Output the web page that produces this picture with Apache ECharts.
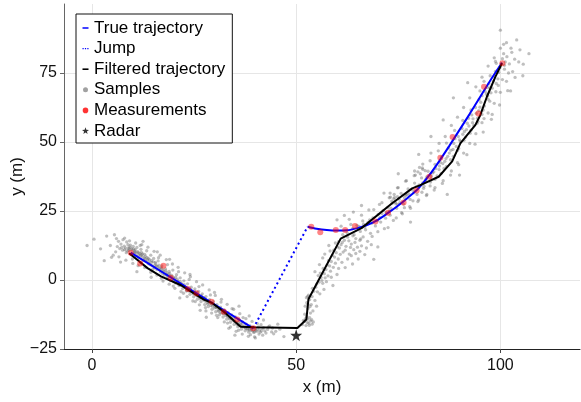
<!DOCTYPE html>
<html>
<head>
<meta charset="utf-8">
<script src="https://cdn.jsdelivr.net/npm/echarts@6/dist/echarts.min.js"></script>
<style>
html,body{margin:0;padding:0;background:#fff;}
#chart{width:581px;height:402px;}
</style>
</head>
<body>
<div id="chart"></div>
<script>
// ---- data ----
const xTicks = [0, 50, 100];
const yTicks = [-25, 0, 25, 50, 75];

const trueSeg1 = [[9.5, 9.9], [24.5, -3.8], [39.5, -17.5]];
const jumpSeg = [[39.5, -17.5], [52.8, 19.3]];
const trueSeg2 = [[52.8, 19.3], [55, 18.6], [57.5, 18.1], [60, 17.9], [62.5, 18.0], [65, 18.8], [67.5, 20.0],
  [70, 21.8], [72.5, 24.3], [75, 27.0], [77.5, 30.0], [80, 33.3], [82.5, 37.8], [85, 43.0], [87.5, 48.6],
  [90, 54.4], [92.5, 60.2], [95, 66.2], [97.5, 72.2], [100.4, 78.7]];

const filtered = [[9.1, 9.7], [11, 7.4], [13.6, 4.3], [16.9, 1.3], [21.8, -1.9], [23.4, -3.4], [27.4, -7.1],
  [29.5, -8.4], [32.8, -12.1], [36.4, -16.9], [39.7, -17.1], [50.3, -17.4], [52.5, -14.3], [53.0, -7.0],
  [60.9, 15.0], [66.0, 18.8], [73.5, 27.8], [78.4, 33.2], [80.4, 34.4], [84.9, 37.4], [88.2, 43.0],
  [90.2, 49.5], [93.9, 56.2], [95.1, 59.8], [96.7, 66.4], [98.8, 73.7], [100.4, 78.5]];

const measurements = [[9.5, 9.9], [11.8, 6.0], [17.5, 5.2], [19.3, 0.8], [23.5, -3.3], [25.6, -4.8],
  [29.3, -7.9], [32.3, -11.5], [35.6, -14.3], [39.5, -17.5], [53.7, 19.3], [55.9, 17.3], [59.7, 18.1],
  [62.0, 18.1], [64.4, 19.6], [69.4, 21.2], [72.5, 24.4], [76.3, 28.1], [79.5, 32.4], [82.6, 37.4],
  [85.3, 44.3], [88.3, 51.8], [94.6, 60.3], [96.0, 70.0], [100.5, 78.5]];

const radar = [[50, -20]];

const samples = [
  [6.2,12.1],[6.8,11.4],[7.1,13.0],[7.5,10.8],[7.9,12.3],[8.2,11.6],[8.4,9.9],[8.8,12.8],[9.0,10.7],[9.3,11.9],
  [9.6,9.2],[9.8,10.9],[10.1,12.2],[10.3,9.8],[10.6,11.0],[10.9,8.7],[11.2,10.3],[11.4,7.9],[11.7,9.6],[12.0,11.1],
  [12.3,8.4],[12.6,7.2],[12.9,9.3],[13.2,6.8],[13.5,8.1],[13.8,5.9],[14.1,7.4],[14.4,9.0],[14.7,5.2],[15.0,6.6],
  [15.3,4.5],[15.6,5.9],[15.9,3.8],[16.2,6.9],[16.5,4.3],[16.8,2.9],[17.1,5.1],[17.4,3.4],[17.7,1.8],[18.0,4.0],
  [18.3,2.6],[18.6,0.9],[18.9,3.1],[19.2,-0.2],[19.5,1.7],[19.8,3.6],[20.1,0.5],[20.4,-1.1],[20.7,1.9],[21.0,-0.4],
  [21.3,-2.0],[21.6,0.8],[21.9,-1.2],[22.2,-3.1],[22.5,-0.3],[22.8,-2.5],[23.1,-4.0],[23.4,-1.4],[23.7,-3.3],[24.0,-5.2],
  [24.3,-2.6],[24.6,-4.3],[24.9,-6.1],[25.2,-3.2],[25.5,-5.5],[25.8,-7.0],[26.1,-4.1],[26.4,-6.3],[26.7,-7.8],[27.0,-5.0],
  [27.3,-7.2],[27.6,-8.9],[27.9,-6.0],[28.2,-8.1],[28.5,-9.6],[28.8,-7.1],[29.1,-9.2],[29.4,-10.6],[29.7,-7.8],[30.0,-10.1],
  [30.3,-11.5],[30.6,-8.9],[30.9,-10.9],[31.2,-12.6],[31.5,-9.8],[31.8,-12.0],[32.1,-13.4],[32.4,-10.8],[32.7,-12.9],[33.0,-14.2],
  [33.3,-11.7],[33.6,-13.6],[33.9,-15.3],[34.2,-12.6],[34.5,-14.6],[34.8,-16.1],[35.1,-13.4],[35.4,-15.5],[35.7,-16.9],[36.0,-14.4],
  [36.3,-16.3],[36.6,-17.8],[36.9,-15.2],[37.2,-17.1],[37.5,-18.4],[37.8,-16.0],[38.1,-17.6],[38.4,-18.9],[38.7,-16.6],[39.0,-18.3],
  [39.3,-17.2],[39.6,-19.0],[40.0,-17.8],[40.4,-18.6],[40.8,-17.0],[41.2,-18.9],[41.7,-17.6],[42.3,-18.4],[43.0,-17.9],
  [7.3,11.8],[8.6,10.5],[9.4,12.6],[10.4,10.6],[11.0,11.8],[11.5,9.1],[12.1,10.0],[12.8,8.0],[13.6,7.3],[14.2,5.6],
  [15.1,7.8],[15.8,5.0],[16.6,3.6],[17.3,2.3],[18.1,3.3],[18.8,1.9],[19.6,0.2],[20.5,0.9],[21.4,-1.5],[22.1,-2.0],
  [23.0,-2.9],[23.9,-4.1],[24.8,-5.0],[25.6,-4.6],[26.5,-6.8],[27.4,-6.4],[28.3,-8.7],[29.2,-8.4],[30.1,-9.5],[31.0,-11.3],
  [31.9,-11.0],[32.8,-12.2],[33.7,-14.1],[34.6,-13.9],[35.5,-16.0],[36.4,-15.6],[37.3,-16.6],[38.2,-18.1],[39.1,-17.6],[40.2,-18.2],
  [41.0,-18.1],[42.0,-17.3],
  [8.0,11.0],[9.1,11.3],[10.2,11.3],[10.8,9.8],[11.9,8.9],[12.4,9.5],[13.0,7.6],[13.9,6.5],[14.6,7.0],[15.4,5.3],
  [16.1,4.9],[16.9,4.4],[17.6,3.0],[18.4,1.5],[19.3,1.2],[20.0,-0.5],[20.9,0.2],[21.7,-1.9],[22.6,-1.7],[23.5,-3.8],
  [24.2,-3.5],[25.0,-4.6],[25.9,-5.9],[26.8,-5.7],[27.7,-7.6],[28.6,-7.6],[29.5,-9.5],[30.4,-10.0],[31.3,-10.5],[32.2,-12.2],
  [33.1,-12.7],[34.0,-13.4],[34.9,-15.0],[35.8,-15.3],[36.7,-16.2],[37.6,-17.3],[38.5,-17.4],[39.4,-18.4],[40.6,-17.4],[41.5,-18.5],
  [5.8,10.2],[6.5,14.0],[8.5,13.8],[9.9,7.6],[11.8,12.5],[12.0,6.2],[13.4,10.6],[14.9,3.9],[16.3,8.1],[17.0,0.6],
  [18.5,5.6],[19.9,-2.2],[21.2,3.0],[22.4,-4.8],[23.8,0.2],[25.3,-7.8],[26.2,-2.4],[27.8,-10.0],[29.0,-5.4],[30.5,-12.8],
  [31.6,-8.0],[33.2,-15.6],[34.3,-10.4],[35.9,-18.2],[37.0,-13.6],[38.8,-19.8],[40.5,-15.8],[41.8,-20.0],[43.5,-16.6],[44.0,-18.8],
  [4.5,12.5],[5.2,9.0],[6.0,15.0],[6.6,8.4],[7.6,14.6],[8.3,7.2],[9.2,14.2],[10.0,6.0],[10.7,13.4],[11.3,5.2],
  [12.2,12.8],[12.9,4.5],[13.7,11.9],[14.4,2.8],[15.2,10.4],[15.9,1.8],[16.7,9.0],[17.4,-0.4],[18.2,7.4],[18.9,-1.5],
  [19.7,5.8],[20.3,-3.0],[21.1,4.6],[21.8,-4.2],[22.7,2.6],[23.3,-6.0],[24.1,1.2],[24.7,-7.6],[25.6,-0.6],[26.3,-9.0],
  [27.1,-1.8],[27.9,-11.2],[28.7,-3.6],[29.3,-12.0],[30.2,-5.6],[30.8,-13.6],[31.7,-7.0],[32.4,-15.2],[33.1,-8.8],[33.9,-17.0],
  [34.7,-10.6],[35.3,-18.6],[36.2,-12.2],[36.8,-19.6],[37.7,-14.0],[38.3,-20.4],[39.2,-15.0],[39.8,-20.6],[40.9,-19.6],[41.4,-16.2],
  [42.6,-19.2],[43.2,-17.0],[44.2,-17.4],[45.0,-18.6],[46.0,-17.8],
  [8.9,11.6],[9.7,11.4],[10.5,10.1],[11.3,9.9],[12.2,9.1],[13.1,8.6],[13.8,7.8],[14.5,6.3],[15.5,6.4],[16.4,5.4],
  [17.2,4.0],[18.2,2.0],[19.0,2.4],[19.9,1.0],[20.8,-0.9],[21.6,-0.6],[22.4,-2.2],[23.2,-3.6],[24.1,-3.9],[25.1,-4.0],
  [26.0,-5.3],[26.9,-6.2],[27.8,-7.0],[28.7,-8.4],[29.6,-8.8],[30.5,-9.9],[31.4,-11.8],[32.3,-11.9],[33.2,-13.2],[34.1,-14.0],
  [35.0,-14.9],[35.9,-16.3],[36.8,-16.8],[37.7,-17.6],[38.6,-18.0],[39.8,-18.8],
  [0.5,14.8],[-1.2,12.5],[2.1,11.3],[3.6,15.9],[4.8,8.2],[5.5,16.4],[3.0,7.0],[8.0,15.2],[12.5,14.0],[16.0,10.2],
  [14.5,1.0],[19.0,7.5],[21.5,-6.5],[24.0,2.0],[26.5,-11.0],[30.0,-4.5],[33.5,-17.5],[36.0,-9.5],[38.5,-13.0],[44.5,-19.5],
  [45.5,-16.0],[47.0,-20.5],[11.0,3.0],[7.0,6.5],[28.0,-13.5],[35.0,-20.0],[40.0,-21.0],[42.0,-14.5],
  [51.5,-16.2],[52.0,-15.0],[52.4,-16.5],[52.8,-14.2],[53.1,-15.6],[53.5,-14.8],[53.9,-16.0],[52.6,-13.2],[53.3,-13.6],[54.2,-15.2],
  [51.8,-14.6],[52.2,-9.5],[52.6,-8.2],[52.9,-10.3],[53.3,-7.1],[52.5,-6.4],[53.7,-8.9],[53.0,-5.5],[53.9,-6.0],[54.3,-4.1],
  [54.8,-2.6],[55.2,-4.3],[55.6,-0.8],[56.1,0.9],[55.4,1.6],[56.5,-1.2],[56.9,2.3],[57.3,3.8],[56.6,4.2],[57.8,1.5],
  [58.2,5.1],[58.6,6.7],[57.9,7.0],[59.1,4.6],[59.4,8.3],[59.8,9.9],[59.2,10.8],[60.3,7.6],[60.6,11.6],[61.0,12.8],
  [60.4,13.9],[61.5,10.1],[61.8,14.4],[62.2,12.2],[62.6,15.5],[63.0,9.4],[63.5,13.0],[64.1,11.0],[64.6,15.0],[65.2,7.6],
  [66.0,12.4],[66.8,9.2],[58.0,12.5],[56.5,8.0],[62.0,4.5],[67.5,14.0],[63.8,5.8],[60.0,2.0],[69.0,7.5],[55.0,-9.5],
  [52.7,-15.4],[53.2,-16.4],[52.3,-14.0],[53.8,-14.4],[52.9,-8.8],[53.4,-9.6],[52.8,-6.0],[54.0,-3.0],[55.0,-1.5],[55.9,2.5],
  [56.3,-0.2],[57.1,0.8],[57.6,5.4],[58.4,3.2],[58.9,8.9],[59.6,6.1],[60.1,12.0],[60.8,9.3],[61.3,13.6],[62.0,10.8],
  [62.9,14.2],[63.3,11.8],[64.4,13.6],[65.0,11.9],[65.8,14.9],
  [53.5,-12.0],[54.1,-11.2],[52.1,-12.4],[54.6,-7.4],[55.8,-5.0],[56.8,-3.4],[57.4,-0.6],[58.6,1.0],[59.0,-2.0],[60.4,4.2],
  [61.2,6.4],[62.6,7.6],[63.5,8.8],[64.6,9.6],[65.6,10.4],[66.4,15.6],[67.2,11.6],[68.4,12.8],[59.6,13.4],[58.3,10.5],
  [57.0,9.4],[55.7,5.6],[54.6,3.0],[61.4,16.4],[63.9,16.0],
  [62.5,17.0],[63.4,20.1],[64.2,16.4],[64.9,19.8],[65.7,17.6],[66.3,21.4],[67.0,18.2],[67.6,20.9],[68.2,16.9],[68.8,22.5],
  [69.4,19.6],[70.1,23.8],[70.7,21.0],[71.3,25.2],[71.9,22.4],[72.4,26.3],[73.0,23.5],[73.5,27.8],[74.1,29.9],[74.6,26.0],
  [75.2,29.3],[75.7,31.4],[76.3,27.5],[76.8,30.8],[77.4,33.0],[77.9,29.2],[78.5,32.6],[79.0,35.1],[79.6,31.0],[80.1,34.5],
  [80.7,37.0],[81.2,33.2],[81.8,36.6],[82.3,39.4],[82.9,35.5],[83.4,38.8],[84.0,41.9],[84.5,37.7],[85.1,41.3],[85.6,44.6],
  [86.2,40.4],[86.7,44.0],[87.3,47.8],[87.8,43.6],[88.4,47.3],[88.9,51.2],[89.5,46.9],[90.0,50.8],[90.6,54.9],[91.1,50.6],
  [91.7,54.5],[92.2,58.6],[92.8,54.3],[93.3,58.4],[93.9,62.5],[94.4,58.6],[95.0,62.6],[95.5,66.8],[96.1,63.0],[96.6,67.3],
  [97.2,71.1],[97.7,67.8],[98.3,72.0],[98.8,75.6],[99.4,72.9],[99.9,77.0],[100.5,80.2],[101.0,76.4],[101.6,80.9],[102.2,78.3],
  [102.8,82.5],[103.5,80.0],
  [63.8,18.6],[65.4,19.4],[66.8,19.2],[68.0,21.8],[69.9,21.6],[71.0,24.1],[72.0,24.4],[73.2,26.0],[74.4,27.6],[75.4,28.0],
  [76.5,29.9],[77.6,31.2],[78.8,31.6],[79.9,33.5],[81.0,35.2],[82.0,37.4],[83.1,37.6],[84.2,40.4],[85.3,42.6],[86.4,43.0],
  [87.5,46.0],[88.6,49.5],[89.7,52.0],[90.8,52.8],[91.9,56.8],[93.0,59.8],[94.1,60.4],[95.2,64.4],[96.3,68.2],[97.4,69.6],
  [98.5,73.8],[99.6,75.2],[100.2,78.4],[101.2,79.0],
  [84.0,36.5],[85.5,38.6],[86.8,41.2],[88.5,44.8],[89.8,47.6],[91.5,51.8],[92.6,53.2],[94.3,56.8],[95.8,61.6],[97.4,64.8],
  [98.9,68.2],[100.5,72.6],[102.0,75.0],[76.5,26.2],[78.6,28.7],[80.8,31.8],[82.8,34.1],
  [61.0,19.5],[63.0,22.0],[66.0,23.5],[69.0,25.5],[71.0,28.0],[73.0,31.5],[75.0,33.5],[77.0,36.0],[79.0,39.5],[81.0,42.0],
  [83.0,46.0],[85.0,49.5],[86.5,52.0],[88.0,56.0],[89.5,59.0],[91.0,62.5],[92.5,66.0],[94.0,70.0],[95.5,73.5],[97.0,77.5],
  [98.5,80.5],[100.0,84.0],[101.5,86.0],
  [70.0,17.5],[72.5,19.0],[74.5,22.5],[76.0,24.0],[78.0,26.0],[80.0,29.0],[82.0,31.0],[84.0,33.5],[86.0,36.0],[88.0,39.5],
  [89.5,42.5],[91.0,46.0],[92.5,49.5],[94.0,53.0],[95.5,57.0],[97.0,60.5],[98.5,64.0],[100.0,68.0],[101.5,72.0],[103.0,75.5],
  [104.5,79.0],
  [60.0,21.8],[61.8,23.4],[64.0,24.6],[65.6,14.4],[67.8,25.4],[68.6,15.8],[70.4,27.4],[71.6,18.6],[72.8,29.8],[73.8,21.6],
  [74.8,33.4],[75.8,24.4],[76.8,35.8],[77.8,26.6],[78.9,37.8],[79.8,28.4],[80.9,40.6],[81.9,30.6],[82.8,43.2],[83.8,32.6],
  [84.8,46.8],[85.8,35.0],[86.8,49.6],[87.8,38.0],[88.8,54.2],[89.8,41.8],[90.8,57.8],[91.8,45.4],[92.8,61.6],[93.8,49.2],
  [94.8,65.4],[95.8,53.6],[96.8,69.8],[97.8,58.2],[98.8,79.2],[99.8,63.4],[100.8,85.4],[101.8,68.6],[102.6,84.0],[103.6,73.4],
  [104.8,83.4],[105.6,78.2],
  [66.5,20.2],[68.5,20.6],[70.5,22.6],[72.8,25.0],[74.9,27.4],[77.1,30.8],[79.4,33.8],[81.6,36.0],[83.7,39.2],[85.9,42.2],
  [87.9,47.0],[90.2,50.2],[92.3,55.8],[94.7,61.4],[96.9,66.8],[99.0,71.2],[101.0,77.8],[93.2,57.0],[91.2,53.8],[89.2,48.4],
  [87.1,44.8],[85.0,40.0],[83.0,36.6],[81.3,34.0],
  [73.4,28.6],[73.9,29.4],[74.3,28.1],[74.8,30.2],[73.1,30.0],[74.0,31.0],[79.2,38.0],[79.8,39.2],[80.4,38.5],[81.0,40.1],
  [81.6,39.6],[80.2,40.8],[96.0,72.0],[97.5,74.0],[98.0,69.5],[99.0,78.5],[100.8,82.0],[99.5,70.5],[97.0,65.5],[95.0,68.5],
  [93.5,56.0],[94.5,57.5],[95.5,60.0],[96.0,58.5],
  [66.0,27.0],[70.0,12.0],[75.0,38.5],[78.0,21.0],[83.0,52.0],[87.0,31.0],[92.0,71.5],[100.0,90.5],[104.0,87.0],[105.5,74.0],
  [102.5,68.5],[90.0,38.0],[71.5,31.5],[86.0,58.0],[98.0,60.0],[107.0,82.0],[88.5,66.0],[80.0,45.5]
];

// ---- chart ----
const FONT = 'Liberation Sans';
const BLUE = '#0000ff';
const STAR = 'path://M0,-10L2.35,-3.24L9.51,-3.09L3.80,1.24L5.88,8.09L0,4.2L-5.88,8.09L-3.80,1.24L-9.51,-3.09L-2.35,-3.24Z';
const minus = v => String(v).replace('-', '\u2212');
const FS = 16;     // tick labels
const FL = 17;     // legend and axis names

const chart = echarts.init(document.getElementById('chart'), null, {renderer: 'canvas'});
chart.setOption({
  animation: false,
  backgroundColor: '#ffffff',
  textStyle: {fontFamily: FONT},
  grid: {left: 64, right: 1, top: 4, bottom: 53, containLabel: false, outerBoundsMode: 'none'},
  xAxis: {
    type: 'value', min: -6.85, max: 119.5, splitNumber: 2,
    name: 'x (m)', nameLocation: 'middle', nameGap: 30, nameMoveOverlap: false,
    nameTextStyle: {fontSize: FL, color: '#111', fontFamily: FONT},
    axisLine: {show: true, onZero: false, lineStyle: {color: '#222', width: 1}},
    axisTick: {show: true, length: 4, customValues: xTicks, lineStyle: {color: '#444'}},
    axisLabel: {fontSize: FS, color: '#111', margin: 9, customValues: xTicks, formatter: minus, fontFamily: FONT},
    splitLine: {show: true, lineStyle: {color: '#e6e6e6', width: 1}}
  },
  yAxis: {
    type: 'value', min: -25, max: 100, interval: 25,
    name: 'y (m)', nameLocation: 'middle', nameGap: 38, nameRotate: 90, nameMoveOverlap: false,
    nameTextStyle: {fontSize: FL, color: '#111', fontFamily: FONT},
    axisLine: {show: true, onZero: false, lineStyle: {color: '#666', width: 1}},
    axisTick: {show: true, length: 4, customValues: yTicks, lineStyle: {color: '#666'}},
    axisLabel: {fontSize: FS, color: '#111', margin: 7, customValues: yTicks, formatter: minus, fontFamily: FONT},
    splitLine: {show: true, lineStyle: {color: '#e6e6e6', width: 1}}
  },
  legend: {
    orient: 'vertical', left: 76, top: 14,
    padding: [5.5, 7, 3.5, 3], itemGap: 3.6, itemWidth: 10, itemHeight: 12,
    backgroundColor: '#ffffff', borderColor: '#111', borderWidth: 1, borderRadius: 0,
    textStyle: {fontSize: FL, lineHeight: 17, color: '#000', fontFamily: FONT},
    selectedMode: false,
    data: [
      {name: 'True trajectory', icon: 'path://M0,0M10,12M3.5,5.25h6v1.5h-6z', itemStyle: {color: BLUE, borderWidth: 0}},
      {name: 'Jump', icon: 'path://M0,0M10,12M3.5,5.4h1.2v1.2h-1.2zM5.9,5.4h1.2v1.2h-1.2zM8.3,5.4h1.2v1.2h-1.2z', itemStyle: {color: BLUE, borderWidth: 0}},
      {name: 'Filtered trajectory', icon: 'path://M0,0M10,12M3.5,5.2h6v1.6h-6z', itemStyle: {color: '#000', borderWidth: 0}},
      {name: 'Samples', icon: 'path://M0,0M10,12M4,6a2.5,2.5 0 1,0 5,0a2.5,2.5 0 1,0 -5,0z', itemStyle: {color: '#8a8a8a', borderWidth: 0}},
      {name: 'Measurements', icon: 'path://M0,0M10,12M3.7,6a2.8,2.8 0 1,0 5.6,0a2.8,2.8 0 1,0 -5.6,0z', itemStyle: {color: '#ff0000', borderWidth: 0}},
      {name: 'Radar', icon: 'path://M0,0M10,12M6.5,2.3L7.35,4.85L10,4.9L7.9,6.5L8.65,9.05L6.5,7.55L4.35,9.05L5.1,6.5L3,4.9L5.65,4.85Z', itemStyle: {color: '#000', borderWidth: 0}}
    ]
  },
  series: [
    {name: 'Samples', type: 'scatter', data: samples, symbol: 'circle', symbolSize: 3.3,
      itemStyle: {color: 'rgba(100,100,100,0.52)'}, z: 1, silent: true},
    {name: 'True trajectory', type: 'line', data: trueSeg1, showSymbol: false, symbol: 'none',
      lineStyle: {color: BLUE, width: 2}, itemStyle: {color: BLUE}, z: 2},
    {name: 'True trajectory', type: 'line', data: trueSeg2, showSymbol: false, symbol: 'none', smooth: 0.3,
      lineStyle: {color: BLUE, width: 2}, itemStyle: {color: BLUE}, z: 2},
    {name: 'Jump', type: 'line', data: jumpSeg, showSymbol: false, symbol: 'none',
      lineStyle: {color: BLUE, width: 2, type: [2, 3]}, itemStyle: {color: BLUE}, z: 2},
    {name: 'Filtered trajectory', type: 'line', data: filtered, showSymbol: false, symbol: 'none',
      lineStyle: {color: '#000', width: 2}, itemStyle: {color: '#000'}, z: 3},
    {name: 'Measurements', type: 'scatter', data: measurements, symbol: 'circle', symbolSize: 6,
      itemStyle: {color: 'rgba(255,0,0,0.6)'}, z: 4},
    {name: 'Radar', type: 'scatter', data: radar, symbol: STAR, symbolSize: 12,
      itemStyle: {color: '#000'}, z: 5}
  ]
});
</script>
</body>
</html>
